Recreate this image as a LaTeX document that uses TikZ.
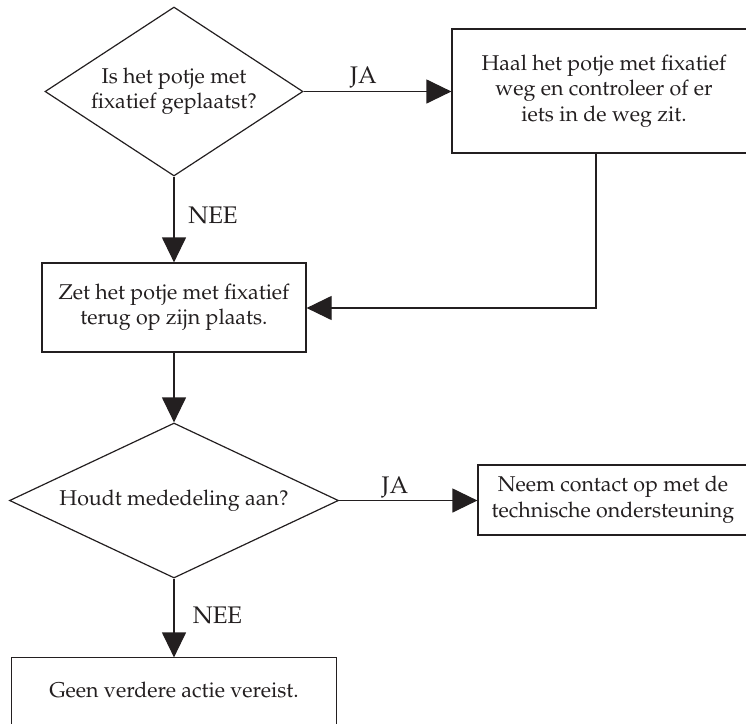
\documentclass[tikz,border=0pt]{standalone}
\usepackage[T1]{fontenc}
\usepackage{mathpazo}
\usetikzlibrary{shapes.geometric,arrows.meta,calc}
\definecolor{ink}{HTML}{231F20}
\tikzset{
  boxtext/.style={font=\fontsize{21.4}{25.5}\selectfont, text=ink, align=center},
  dec/.style={diamond, draw=ink, line width=1.2pt, inner sep=0pt, boxtext},
  proc/.style={rectangle, draw=ink, line width=1.2pt, inner sep=0pt, boxtext},
  lbl/.style={font=\fontsize{24}{28}\selectfont, text=ink, anchor=base, inner sep=0pt},
  conn/.style={draw=ink, line width=1.2pt},
  arr/.style={conn, -{Triangle[width=24pt,length=25pt]}}
}
\begin{document}
\begin{tikzpicture}[x=1pt,y=-1pt]
\useasboundingbox (0,0) rectangle (746,723);
\clip (0,0) rectangle (746,723);
\node[dec, aspect=1.53, minimum width=258pt, minimum height=169pt] (d1) at (174,91.5) {Is het potje met\\fixatief geplaatst?};
\node[proc, minimum width=304pt, minimum height=124pt] (b1) at (604,91) {Haal het potje met fixatief\\weg en controleer of er\\iets in de weg zit.};
\node[proc, minimum width=264pt, minimum height=89pt] (b2) at (174,307.5) {Zet het potje met fixatief\\terug op zijn plaats.};
\node[dec, aspect=2.12, minimum width=329pt, minimum height=155pt] (d2) at (174,500.5) {Houdt mededeling aan?};
\node[proc, minimum width=270pt, minimum height=70pt] (b3) at (613,500) {Neem contact op met de\\technische ondersteuning};
\node[proc, draw=none, minimum width=324pt, minimum height=64pt] (b4) at (174,690) {Geen verdere actie vereist.};
\draw[conn] ($(b4.south west)+(0,20)$) rectangle (b4.north east);
\coordinate (c1) at (596,308);
\draw[arr] (d1.east) -- (d1.east -| b1.west);
\draw[arr] (d1.south) -- (b2.north);
\draw[arr] (b1.south -| c1) -- (c1) -- (c1 -| b2.east);
\draw[arr] (b2.south) -- (d2.north);
\draw[arr] (d2.east) -- (d2.east -| b3.west);
\draw[arr] (d2.south) -- (b4.north);
\node[lbl] (l1) at (363.5,83) {JA};
\node[lbl] (l2) at (213,223) {NEE};
\node[lbl] (l3) at (395,493) {JA};
\node[lbl] (l4) at (217.5,623) {NEE};
\end{tikzpicture}
\end{document}
